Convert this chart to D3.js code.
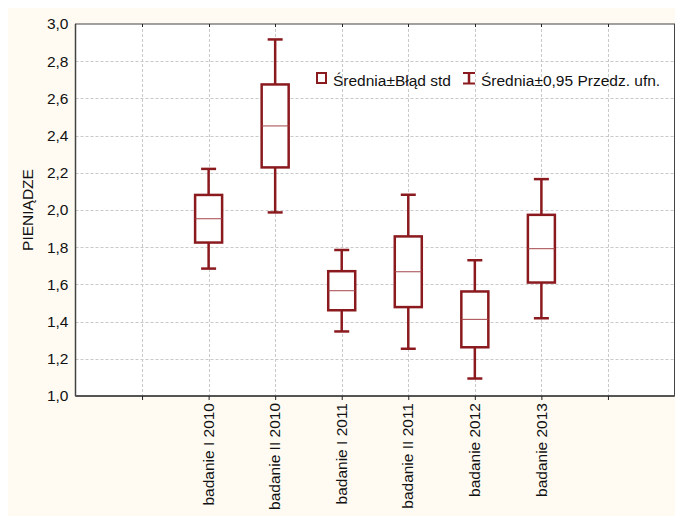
<!DOCTYPE html>
<html>
<head>
<meta charset="utf-8">
<script src="https://cdn.jsdelivr.net/npm/d3@7"></script>
<style>
  html, body { margin: 0; padding: 0; background: #ffffff; }
  svg { display: block; }
  text { font-family: "Liberation Sans", Arial, sans-serif; fill: #111; }
</style>
</head>
<body>
<svg id="chart" width="675" height="516"></svg>
<script>
// Groups (survey waves)
const categories = ["badanie I 2010", "badanie II 2010", "badanie I 2011", "badanie II 2011", "badanie 2012", "badanie 2013"];
// Mean per group
const means = [1.953, 2.452, 1.566, 1.668, 1.412, 1.792];
// Standard error of the mean (box half-height)
const stdErr = [0.128, 0.223, 0.105, 0.190, 0.150, 0.182];
// Half-width of the 0.95 confidence interval (whisker length)
const ci95 = [0.268, 0.465, 0.219, 0.414, 0.318, 0.374];
// Value-axis ticks
const yTicks = [1.0, 1.2, 1.4, 1.6, 1.8, 2.0, 2.2, 2.4, 2.6, 2.8, 3.0];
const yLabel = "PIENIĄDZE";
const legendLabels = ["Średnia±Błąd std", "Średnia±0,95 Przedz. ufn."];

const color = "#8b1a1f";
const fontSize = "15.5px";
const svg = d3.select("#chart");
const W = 675, H = 516;
const m = { left: 75.5, right: 674.5, top: 24, bottom: 396 };

// panel background
svg.append("rect").attr("x", 8).attr("y", 8).attr("width", W - 8).attr("height", H - 8).attr("fill", "#fffbf3");
svg.append("rect").attr("x", m.left).attr("y", m.top).attr("width", m.right - m.left).attr("height", m.bottom - m.top).attr("fill", "#ffffff");

// slot 0..9 across the plot, groups sit on slots 2..7
const x = d3.scaleLinear().domain([0, 9]).range([m.left, m.right]);
const y = d3.scaleLinear().domain([1, 3]).range([m.bottom, m.top]);
const slot = i => i + 2;
const locale = d3.formatLocale({ decimal: ",", thousands: " ", grouping: [3], currency: ["", ""] });
const fmt = locale.format(".1f");

// gridlines
const grid = svg.append("g").attr("stroke", "#c9c9c9").attr("stroke-dasharray", "3,2").attr("stroke-width", 1);
grid.selectAll("line.h").data(yTicks.slice(1, -1)).join("line")
  .attr("x1", m.left).attr("x2", m.right)
  .attr("y1", d => Math.round(y(d)) + 0.5).attr("y2", d => Math.round(y(d)) + 0.5);
grid.selectAll("line.v").data(d3.range(1, 9)).join("line")
  .attr("y1", m.top).attr("y2", m.bottom)
  .attr("x1", d => Math.round(x(d)) + 0.5).attr("x2", d => Math.round(x(d)) + 0.5);

// frame
svg.append("rect").attr("x", m.left).attr("y", m.top).attr("width", m.right - m.left).attr("height", m.bottom - m.top)
  .attr("fill", "none").attr("stroke", "#444").attr("stroke-width", 1);
svg.append("line").attr("x1", m.left).attr("x2", m.left).attr("y1", m.top).attr("y2", m.bottom).attr("stroke", "#444").attr("stroke-width", 1.5);
svg.append("line").attr("x1", m.left).attr("x2", m.right).attr("y1", m.bottom).attr("y2", m.bottom).attr("stroke", "#555").attr("stroke-width", 2);

// top frame inner ticks
svg.append("g").selectAll("line").data(d3.range(1, 9)).join("line")
  .attr("x1", d => Math.round(x(d)) + 0.5).attr("x2", d => Math.round(x(d)) + 0.5)
  .attr("y1", m.top).attr("y2", m.top + 3).attr("stroke", "#222");

// y axis
const yAxis = d3.axisLeft(y).tickValues(yTicks).tickFormat(fmt).tickSize(0).tickPadding(7);
const gy = svg.append("g").attr("transform", `translate(${m.left},0)`).call(yAxis);
gy.select(".domain").remove();
gy.selectAll("text").style("font-size", fontSize).attr("fill", "#111").style("font-family", '"Liberation Sans", Arial, sans-serif');

// x axis
const xAxis = d3.axisBottom(x).tickValues(d3.range(1, 9)).tickSize(4)
  .tickFormat(d => (d >= 2 && d <= 7) ? categories[d - 2] : "");
const gx = svg.append("g").attr("transform", `translate(0,${m.bottom})`).call(xAxis);
gx.select(".domain").remove();
gx.selectAll(".tick line").attr("stroke", "#222");
gx.selectAll("text")
  .style("font-size", fontSize).attr("fill", "#111").style("font-family", '"Liberation Sans", Arial, sans-serif')
  .attr("transform", "rotate(-90)")
  .attr("text-anchor", "end")
  .attr("x", -7).attr("y", 0).attr("dy", "0.3em");

// y label
svg.append("text").attr("transform", `translate(33,${(m.top + m.bottom) / 2}) rotate(-90)`)
  .attr("text-anchor", "middle").style("font-size", fontSize).text(yLabel);

// whiskers + boxes
const boxW = 27, capW = 15;
const gb = svg.append("g");
means.forEach((mu, i) => {
  const cx = x(slot(i));
  const lo = mu - ci95[i], hi = mu + ci95[i];
  const bLo = mu - stdErr[i], bHi = mu + stdErr[i];
  const g = gb.append("g").attr("stroke", color).attr("fill", "none");
  g.append("line").attr("x1", cx).attr("x2", cx).attr("y1", y(hi)).attr("y2", y(bHi)).attr("stroke-width", 2.5);
  g.append("line").attr("x1", cx).attr("x2", cx).attr("y1", y(bLo)).attr("y2", y(lo)).attr("stroke-width", 2.5);
  g.append("line").attr("x1", cx - capW / 2).attr("x2", cx + capW / 2).attr("y1", y(hi)).attr("y2", y(hi)).attr("stroke-width", 2.5);
  g.append("line").attr("x1", cx - capW / 2).attr("x2", cx + capW / 2).attr("y1", y(lo)).attr("y2", y(lo)).attr("stroke-width", 2.5);
  g.append("rect").attr("x", cx - boxW / 2).attr("width", boxW)
    .attr("y", y(bHi)).attr("height", y(bLo) - y(bHi)).attr("fill", "#ffffff").attr("stroke-width", 2.5);
  g.append("line").attr("x1", cx - boxW / 2).attr("x2", cx + boxW / 2).attr("y1", y(mu)).attr("y2", y(mu))
    .attr("stroke-width", 1).attr("stroke", "#a4464a");
});

// legend
const lg = svg.append("g");
lg.append("rect").attr("x", 317).attr("y", 73).attr("width", 9).attr("height", 10)
  .attr("fill", "#fff").attr("stroke", color).attr("stroke-width", 2);
lg.append("text").attr("x", 333).attr("y", 86).style("font-size", fontSize).text(legendLabels[0]);
const ix = 469;
lg.append("line").attr("x1", ix).attr("x2", ix).attr("y1", 73).attr("y2", 83.5).attr("stroke", color).attr("stroke-width", 2.5);
lg.append("line").attr("x1", ix - 6).attr("x2", ix + 6).attr("y1", 73).attr("y2", 73).attr("stroke", color).attr("stroke-width", 2);
lg.append("line").attr("x1", ix - 6).attr("x2", ix + 6).attr("y1", 83.5).attr("y2", 83.5).attr("stroke", color).attr("stroke-width", 2);
lg.append("text").attr("x", 481).attr("y", 86).style("font-size", fontSize).text(legendLabels[1]);
</script>
</body>
</html>
